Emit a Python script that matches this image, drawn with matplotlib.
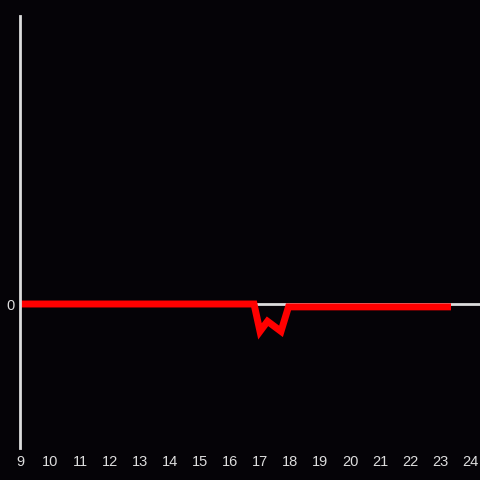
import matplotlib
matplotlib.use("Agg")
import matplotlib.pyplot as plt

hours = [9, 16.8, 17.0, 17.25, 17.7, 17.95, 23.25]
values = [0, 0, -0.95, -0.6, -0.95, -0.1, -0.1]
xticks = list(range(9, 25))
yticks = [0]

bg = "#050307"
fg = "#dddddd"

fig = plt.figure(figsize=(4.8, 4.8), dpi=100, facecolor=bg)
ax = fig.add_axes([20/480, 32/480, 460/480, 432/480], facecolor=bg)
ax.set_xlim(9, 24.333)
ax.set_ylim(-5, 10)
ax.axhline(0, color=fg, lw=2, zorder=1)
ax.plot(hours, values, color="#ff0000", lw=5, zorder=2, solid_joinstyle="miter")
for s in ["top", "right", "bottom"]:
    ax.spines[s].set_visible(False)
ax.spines["left"].set_color(fg)
ax.spines["left"].set_linewidth(2)
ax.set_xticks(xticks)
ax.set_yticks(yticks)
ax.tick_params(length=0, colors=fg, labelsize=10.5)
ax.tick_params(axis="x", pad=5)
ax.tick_params(axis="y", pad=4)
for lab in ax.get_xticklabels() + ax.get_yticklabels():
    lab.set_family("Liberation Sans")
fig.savefig("out.png", dpi=100, facecolor=bg)
